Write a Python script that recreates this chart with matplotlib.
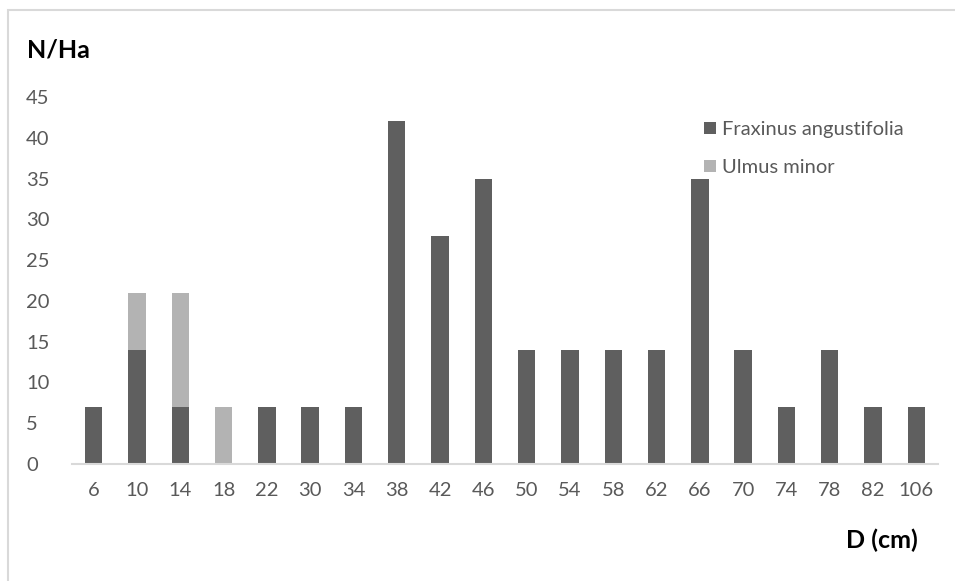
import matplotlib
matplotlib.use("Agg")
import matplotlib.pyplot as plt
from matplotlib.patches import Rectangle, Patch
import numpy as np

# Diameter classes (cm) and stem density per species (N/Ha)
classes = ["6", "10", "14", "18", "22", "30", "34", "38", "42", "46",
           "50", "54", "58", "62", "66", "70", "74", "78", "82", "106"]
fraxinus = [7, 14, 7, 0, 7, 7, 7, 42, 28, 35, 14, 14, 14, 14, 35, 14, 7, 14, 7, 7]
ulmus = [0, 7, 14, 7, 0, 0, 0, 0, 0, 0, 0, 0, 0, 0, 0, 0, 0, 0, 0, 0]
yticks = [0, 5, 10, 15, 20, 25, 30, 35, 40, 45]

dark = "#5f5f5f"
light = "#b3b3b3"
tick_col = "#595959"
frame_col = "#d9d9d9"

plt.rcParams["font.family"] = ["Lato", "DejaVu Sans"]

W, H = 955, 581
fig = plt.figure(figsize=(W / 100, H / 100), dpi=100)

# chart frame
fig.patches.append(Rectangle((8 / W, -0.1), 1.2, 1 - 10 / H + 0.1,
                             transform=fig.transFigure, fill=False,
                             edgecolor=frame_col, linewidth=1.5))

ax = fig.add_axes([72 / W, 1 - 464 / H, (938 - 72) / W, (464 - 97) / H])
x = np.arange(len(classes))
ax.bar(x, fraxinus, width=0.4, color=dark, label="Fraxinus angustifolia")
ax.bar(x, ulmus, width=0.4, bottom=fraxinus, color=light, label="Ulmus minor")

ax.set_xlim(-0.5, len(classes) - 0.5)
ax.set_ylim(0, 45)
ax.set_yticks(yticks)
ax.set_xticks(x)
ax.set_xticklabels(classes)
for s in ["top", "right", "left"]:
    ax.spines[s].set_visible(False)
ax.spines["bottom"].set_color(frame_col)
ax.spines["bottom"].set_linewidth(1.5)
ax.tick_params(axis="both", length=0, labelsize=14.5, colors=tick_col)
ax.tick_params(axis="x", pad=13)
ax.tick_params(axis="y", pad=33)
for lab in ax.get_yticklabels():
    lab.set_horizontalalignment("left")

fig.text(27 / W, 1 - 50 / H, "N/Ha", fontsize=18, fontweight="bold",
         color="black", va="center", ha="left")
fig.text(918 / W, 1 - 540 / H, "D (cm)", fontsize=18, fontweight="bold",
         color="black", va="center", ha="right")

handles = [Patch(facecolor=dark), Patch(facecolor=light)]
leg = fig.legend(handles, ["Fraxinus angustifolia", "Ulmus minor"],
                 loc="upper left", bbox_to_anchor=(704 / W, 1 - 121 / H),
                 frameon=False, fontsize=14.5, handlelength=0.6,
                 handleheight=0.6, handletextpad=0.3, labelspacing=1.05,
                 borderaxespad=0, borderpad=0)
for t in leg.get_texts():
    t.set_color(tick_col)

fig.savefig("out.png", dpi=100)
